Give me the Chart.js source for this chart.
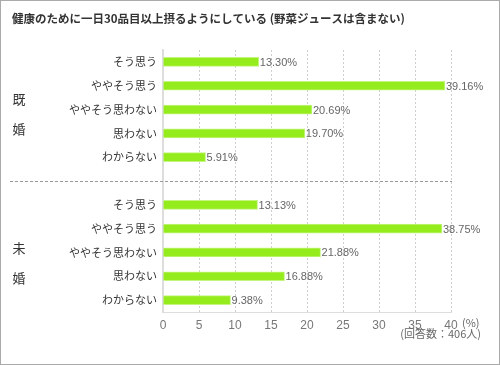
<!DOCTYPE html>
<html>
<head>
<meta charset="utf-8">
<script src="https://cdn.jsdelivr.net/npm/chart.js@4"></script>
<style>
  body { margin: 0; background: #fff; }
  canvas { display: block; }
</style>
</head>
<body>
<canvas id="myChart" width="500" height="365"></canvas>
<script>
const title = '健康のために一日30品目以上摂るようにしている (野菜ジュースは含まない)';
const categories = ['そう思う', 'ややそう思う', 'ややそう思わない', '思わない', 'わからない'];
const groups = ['既婚', '未婚'];
const married = [13.30, 39.16, 20.69, 19.70, 5.91];
const unmarried = [13.13, 38.75, 21.88, 16.88, 9.38];
const xTicks = [0, 5, 10, 15, 20, 25, 30, 35, 40];
const unit = '(%)';
const note = '(回答数：406人)';

const ctx = document.getElementById('myChart');
const jp = '"Noto Sans CJK JP", "Noto Sans", sans-serif';

// one empty slot between the two groups
const labels = categories.concat([''], categories);
const values = married.concat([null], unmarried);

const extras = {
  id: 'extras',
  afterDatasetsDraw(chart) {
    const c = chart.ctx;
    const x = chart.scales.x;
    const y = chart.scales.y;
    c.save();

    // value labels
    c.font = '11px "Liberation Sans", Arial, sans-serif';
    c.fillStyle = '#666';
    c.textAlign = 'left';
    c.textBaseline = 'middle';
    chart.getDatasetMeta(0).data.forEach((bar, i) => {
      if (values[i] == null) return;
      c.fillText(values[i].toFixed(2) + '%', bar.x + 1, bar.y + 1);
    });

    // separator between groups
    const sepY = Math.round(y.getPixelForValue(categories.length)) + 0.5;
    c.strokeStyle = '#999';
    c.lineWidth = 1;
    c.setLineDash([3, 2]);
    c.beginPath();
    c.moveTo(10, sepY);
    c.lineTo(x.right + 1, sepY);
    c.stroke();
    c.setLineDash([]);

    // group labels, written vertically
    c.font = '13px ' + jp;
    c.fillStyle = '#333';
    c.textAlign = 'center';
    const offs = [5, 11];
    groups.forEach((g, gi) => {
      const mid = y.getPixelForValue(gi * (categories.length + 1) + 2) + offs[gi];
      c.fillText(g[0], 19, mid - 15);
      c.fillText(g[1], 19, mid + 15);
    });

    // title
    c.font = 'bold 11.5px ' + jp;
    c.fillStyle = '#333';
    c.textAlign = 'left';
    c.fillText(title, 12, 19);

    // unit and note
    c.font = '11px ' + jp;
    c.fillStyle = '#666';
    c.fillText(unit, x.right + 11, 323);
    c.textAlign = 'right';
    c.fillText(note, 481, 334);

    // frame
    c.strokeStyle = '#aaa';
    c.strokeRect(0.5, 0.5, 499, 364);
    c.restore();
  }
};

new Chart(ctx, {
  type: 'bar',
  data: {
    labels: labels,
    datasets: [{
      data: values,
      backgroundColor: '#95ec1c',
      borderColor: '#c4f57f',
      borderWidth: 1,
      borderSkipped: 'left',
      barThickness: 9
    }]
  },
  options: {
    indexAxis: 'y',
    responsive: false,
    animation: false,
    devicePixelRatio: 1,
    layout: { padding: { left: 0, right: 49, top: 50, bottom: 0 } },
    plugins: {
      legend: { display: false },
      tooltip: { enabled: false }
    },
    scales: {
      x: {
        min: 0,
        max: 40,
        afterBuildTicks: (s) => { s.ticks = xTicks.map(v => ({ value: v })); },
        afterFit: (s) => { s.height = 53; },
        grid: { color: '#cfcfcf', drawTicks: false },
        border: { color: '#ddd', width: 1, dash: [2, 2] },
        ticks: {
          padding: 6,
          color: '#777',
          font: { size: 12, family: '"Liberation Sans", Arial, sans-serif' }
        }
      },
      y: {
        afterFit: (s) => { s.width = 163; },
        grid: { display: false, drawTicks: false },
        border: { color: '#ddd', width: 2 },
        ticks: {
          padding: 6,
          color: '#333',
          autoSkip: false,
          font: { size: 11, family: jp }
        }
      }
    }
  },
  plugins: [extras]
});
</script>
</body>
</html>
